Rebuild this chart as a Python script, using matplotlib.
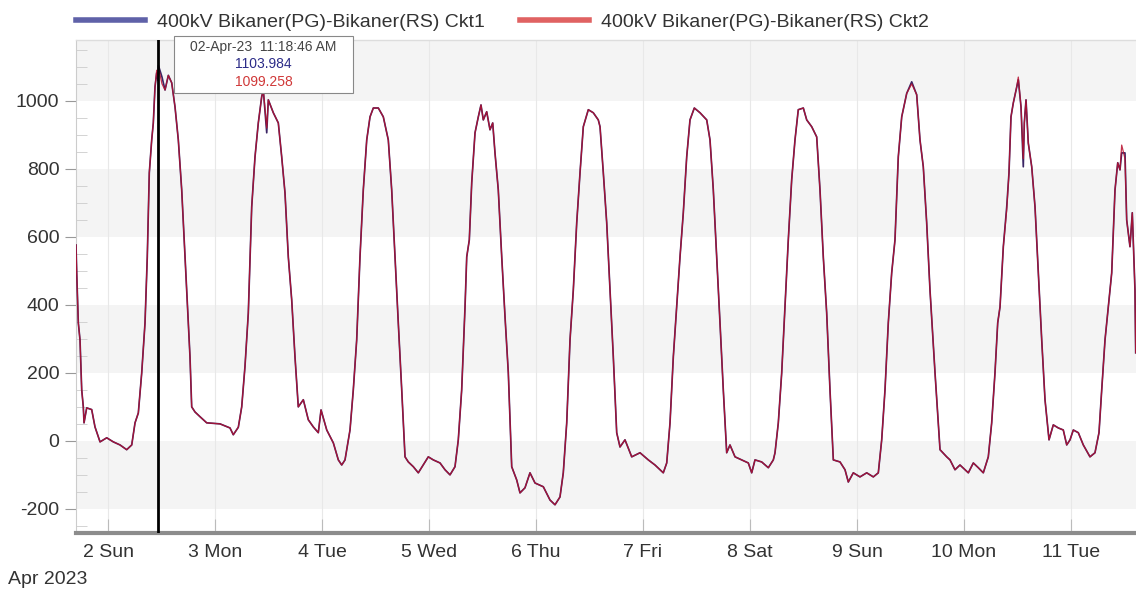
import datetime
import matplotlib
matplotlib.use('Agg')
import matplotlib.pyplot as plt
import matplotlib.dates as mdates
from matplotlib.lines import Line2D
from matplotlib.ticker import MultipleLocator, FuncFormatter
from matplotlib.offsetbox import TextArea, VPacker, AnnotationBbox

plt.rcParams['font.family'] = ['Liberation Sans', 'DejaVu Sans']
plt.rcParams['axes.unicode_minus'] = False

START = datetime.datetime(2023, 4, 1)

# hours since 01-Apr-23 00:00
HOURS = [
    16.82, 16.98, 17.34, 17.72, 18.10, 18.46, 18.62, 19.22, 20.34, 21.08, 22.21, 23.71, 25.19, 26.69,
    28.19, 29.32, 30.06, 30.80, 31.56, 32.30, 32.81, 33.26, 33.80, 34.16, 34.54, 34.92, 35.22, 35.31,
    36.11, 36.79, 37.53, 38.29, 39.03, 39.77, 40.53, 41.27, 41.65, 42.39, 42.77, 43.51, 44.64, 46.14,
    49.12, 51.36, 52.10, 53.23, 53.99,
    54.73, 55.47, 56.23, 56.97, 57.71, 58.47, 58.83, 59.60, 59.96, 61.08, 62.20, 62.96, 63.70, 64.44,
    65.20, 65.94, 66.68, 67.81, 68.93, 70.05, 71.17, 71.78, 73.06, 74.54, 75.66, 76.42, 77.16, 78.28,
    79.02, 79.78, 80.52, 81.26, 82.03, 82.77, 83.51, 84.63, 85.75, 86.87, 87.63, 88.37, 89.11, 89.88,
    90.62, 91.36, 92.48, 93.60,
    95.84, 96.96, 98.47, 99.59, 100.71, 101.83, 102.57, 103.33, 104.08, 104.46, 105.04, 105.58, 106.32,
    107.06, 107.66, 108.18, 108.94, 109.68, 110.29, 110.80, 111.54, 112.31, 113.05, 113.79, 114.55,
    115.67, 116.41, 117.53, 118.65, 119.78, 121.64, 123.14, 124.26, 125.38, 126.12, 126.89, 127.63,
    128.37, 129.13, 129.87, 130.61, 131.73, 132.85, 133.97,
    134.36, 135.10, 135.86, 136.60, 137.34, 138.10, 138.84, 139.96, 141.47, 143.33, 145.19, 146.69,
    148.55, 149.32, 150.06, 150.80, 151.56, 152.30, 153.04, 153.80, 154.54, 155.51, 156.79, 158.29,
    159.03, 159.77, 160.53, 161.27, 162.01, 162.77, 163.51, 164.64, 166.14, 167.62, 168.38, 169.12,
    170.62, 172.11, 173.23,
    173.61, 174.35, 175.11, 175.85, 176.59, 177.35, 178.09, 178.83, 179.96, 180.72, 181.84, 182.96,
    183.70, 184.44, 185.20, 185.94, 186.69, 188.19, 189.31, 190.05, 191.17, 192.67, 194.18, 195.66,
    196.78, 197.54, 198.28, 199.02, 199.78, 200.52, 201.26, 202.03, 203.15, 204.27, 205.39, 206.13,
    206.87, 207.63, 208.37, 209.50, 210.62, 212.12,
    212.86, 213.98, 215.10, 216.97, 218.09, 219.21, 220.33, 221.45, 222.21, 222.95, 223.56, 224.08,
    224.82, 225.58, 226.09, 226.54, 227.06, 227.82, 228.18, 228.79, 229.30, 229.53, 229.91, 230.42,
    231.19, 231.93, 232.67, 233.43, 234.17, 235.07, 236.03, 237.15, 238.27, 239.04, 239.78, 240.52,
    241.64, 242.76, 244.26, 245.38, 246.28, 246.89, 247.63, 248.37, 249.13, 249.87, 250.48, 250.99,
    251.37, 252.11, 252.49, 253.23, 253.75, 254.35, 254.51,
]

CKT1 = [
    576, 494, 347, 297, 150, 100, 53, 97, 92, 41, -3, 9, -3, -12,
    -26, -12, 53, 82, 200, 347, 541, 788, 885, 935, 1041, 1082, 1060, 1104,
    1070, 1032, 1075, 1053, 982, 885, 738, 541, 444, 247, 100, 85, 71, 53,
    50, 38, 18, 40, 100,
    220, 376, 688, 835, 935, 1012, 1032, 906, 1003, 965, 935, 835, 729, 541,
    415, 247, 100, 121, 62, 41, 24, 91, 32, -6, -56, -71, -56, 32,
    150, 297, 541, 738, 885, 953, 979, 979, 953, 885, 738, 541, 347, 150,
    -47, -62, -76, -94,
    -47, -56, -65, -85, -100, -76, 3, 150, 394, 541, 591, 759, 906,
    953, 988, 944, 968, 915, 935, 847, 738, 541, 365, 200, -76,
    -115, -153, -138, -94, -124, -135, -174, -188, -165, -94, 53, 297,
    444, 641, 788, 924, 974, 965, 944,
    924, 788, 641, 444, 247, 24, -18, 3, -47, -35, -56, -71,
    -94, -65, 53, 247, 394, 541, 671, 835, 944, 979, 965, 944,
    885, 738, 541, 347, 150, -35, -12, -47, -56, -65, -94, -56,
    -62, -79, -56,
    -35, 53, 200, 394, 591, 768, 885, 974, 979, 944, 924, 894,
    738, 541, 376, 150, -56, -62, -85, -121, -94, -106, -94, -106,
    -94, 3, 150, 347, 494, 591, 835, 953, 1022, 1056, 1018, 885,
    806, 641, 444, 200, -26, -47,
    -56, -85, -71, -94, -65, -79, -94, -47, 53, 200, 347, 394,
    571, 688, 788, 953, 994, 1041, 1062, 982, 806, 935, 1003, 876,
    806, 688, 494, 297, 121, 3, 47, 38, 32, -12, 3, 32,
    24, -12, -47, -35, 24, 150, 297, 394, 494, 738, 818, 797,
    847, 847, 650, 571, 671, 444, 259,
]

CKT2 = [
    576, 494, 347, 297, 150, 100, 53, 97, 92, 41, -3, 9, -3, -12,
    -26, -12, 53, 82, 200, 347, 541, 788, 885, 935, 1041, 1090, 1060, 1099,
    1050, 1032, 1075, 1053, 982, 885, 738, 541, 444, 247, 100, 85, 71, 53,
    50, 38, 18, 40, 100,
    220, 376, 688, 835, 935, 1012, 1032, 920, 1003, 965, 935, 835, 729, 541,
    415, 247, 100, 121, 62, 41, 24, 91, 32, -6, -56, -71, -56, 32,
    150, 297, 541, 738, 885, 953, 979, 979, 953, 885, 738, 541, 347, 150,
    -47, -62, -76, -94,
    -47, -56, -65, -85, -100, -76, 3, 150, 394, 541, 591, 759, 906,
    953, 988, 944, 968, 915, 935, 847, 738, 541, 365, 200, -76,
    -115, -153, -138, -94, -124, -135, -174, -188, -165, -94, 53, 297,
    444, 641, 788, 924, 974, 965, 944,
    924, 788, 641, 444, 247, 24, -18, 3, -47, -35, -56, -71,
    -94, -65, 53, 247, 394, 541, 671, 835, 944, 979, 965, 944,
    885, 738, 541, 347, 150, -35, -12, -47, -56, -65, -94, -56,
    -62, -79, -56,
    -35, 53, 200, 394, 591, 768, 885, 974, 979, 944, 924, 894,
    738, 541, 376, 150, -56, -62, -85, -121, -94, -106, -94, -106,
    -94, 3, 150, 347, 494, 591, 835, 953, 1022, 1050, 1018, 885,
    806, 641, 444, 200, -26, -47,
    -56, -85, -71, -94, -65, -79, -94, -47, 53, 200, 347, 394,
    571, 680, 788, 953, 994, 1041, 1070, 982, 830, 935, 1003, 876,
    806, 688, 494, 297, 121, 3, 47, 38, 32, -12, 3, 32,
    24, -12, -47, -35, 24, 150, 297, 394, 494, 738, 818, 797,
    870, 830, 650, 571, 671, 444, 259,
]

LABEL_1 = '400kV Bikaner(PG)-Bikaner(RS) Ckt1'
LABEL_2 = '400kV Bikaner(PG)-Bikaner(RS) Ckt2'
CURSOR_TIME = datetime.datetime(2023, 4, 2, 11, 18, 46)
CURSOR_VALUES = [1103.984, 1099.258]
VIEW_HOURS = (16.82, 254.58)
Y_RANGE = (-271, 1179)
BANDS = [(-200, 0), (200, 400), (600, 800), (1000, 1200)]
DAY_TICKS = [datetime.datetime(2023, 4, d) for d in range(2, 12)]

TEXT_COLOR = '#333333'
FONT_SIZE = 14

times = [START + datetime.timedelta(hours=h) for h in HOURS]

fig = plt.figure(figsize=(11.36, 5.89), dpi=100)
ax = fig.add_axes([76 / 1136, 56 / 589, 1060 / 1136, 493 / 589])

for lo, hi in BANDS:
    ax.axhspan(lo, hi, color='#f4f4f4', lw=0, zorder=0)

ax.plot(times, CKT1, color='#3a2464', lw=1.2, zorder=3)
ax.plot(times, CKT2, color='#b8102e', lw=0.9, alpha=0.85, zorder=4)

ax.axvline(CURSOR_TIME, color='black', lw=2, zorder=6)

ax.set_xlim(START + datetime.timedelta(hours=VIEW_HOURS[0]), START + datetime.timedelta(hours=VIEW_HOURS[1]))
ax.set_ylim(*Y_RANGE)

ax.set_xticks(DAY_TICKS)
ax.xaxis.set_major_formatter(FuncFormatter(
    lambda v, pos: f"{mdates.num2date(v).day} {mdates.num2date(v):%a}"))
ax.grid(axis='x', color='#e8e8e8', lw=0.8, zorder=1)

ax.yaxis.set_major_locator(MultipleLocator(200))
ax.yaxis.set_minor_locator(MultipleLocator(50))
ax.tick_params(axis='y', which='major', direction='out', length=8, color='#999999',
               labelsize=FONT_SIZE, labelcolor=TEXT_COLOR, pad=4)
ax.tick_params(axis='y', which='minor', direction='in', length=8, color='#cccccc')
ax.tick_params(axis='x', which='major', direction='in', length=10, color='#bbbbbb',
               labelsize=FONT_SIZE, labelcolor=TEXT_COLOR, pad=8)

ax.spines['right'].set_visible(False)
ax.spines['left'].set_color('#cccccc')
ax.spines['top'].set_color('#dddddd')
ax.spines['top'].set_linewidth(1)
ax.spines['bottom'].set_color('#8c8c8c')
ax.spines['bottom'].set_linewidth(3)

handles = [Line2D([], [], color='#5f61a8', lw=4), Line2D([], [], color='#e06262', lw=4)]
ax.legend(handles, [LABEL_1, LABEL_2], loc='center left', bbox_to_anchor=(0, (533 - 22) / 493),
          ncol=2, frameon=False, fontsize=FONT_SIZE, borderaxespad=0, borderpad=0,
          handlelength=3.55, handletextpad=0.62, columnspacing=1.8, labelcolor=TEXT_COLOR)

# cursor tooltip
tip = VPacker(children=[
    TextArea(f"{CURSOR_TIME:%d-%b-%y}  {CURSOR_TIME:%I:%M:%S %p}",
             textprops=dict(size=10, color='#444444')),
    TextArea(f"{CURSOR_VALUES[0]:.3f}", textprops=dict(size=10, color='#2c2c88')),
    TextArea(f"{CURSOR_VALUES[1]:.3f}", textprops=dict(size=10, color='#d03838')),
], align='center', pad=0, sep=2.5, width=170)
ab = AnnotationBbox(tip, (CURSOR_TIME, 1.0), xycoords=('data', 'axes fraction'),
                    xybox=(14.5, 0), boxcoords='offset points', box_alignment=(0, 1),
                    pad=0.5, annotation_clip=False,
                    bboxprops=dict(boxstyle='square', fc='white', ec='#888888', lw=0.8))
ab.set_zorder(10)
ax.add_artist(ab)

fig.text(8 / 1136, 1 - 580 / 589, 'Apr 2023', ha='left', va='center', fontsize=FONT_SIZE, color=TEXT_COLOR)

fig.savefig('out.png', dpi=100)
